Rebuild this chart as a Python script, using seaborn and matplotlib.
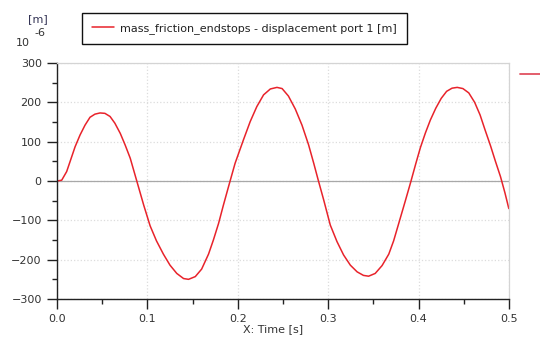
import numpy as np
import pandas as pd
import matplotlib
matplotlib.use('Agg')
import matplotlib.pyplot as plt
import seaborn as sns
from matplotlib.lines import Line2D
from matplotlib.ticker import MultipleLocator

# Values (time in s, displacement in 1e-6 m)
time_s = [0.000, 0.0052, 0.0107, 0.0144, 0.020, 0.0255, 0.031, 0.0365, 0.042,
          0.0476, 0.053, 0.0587, 0.064, 0.070, 0.0753, 0.081, 0.086, 0.090,
          0.096, 0.103, 0.110, 0.1177, 0.125, 0.1325, 0.140, 0.1455, 0.153,
          0.160, 0.1676, 0.173, 0.1787, 0.184, 0.1905, 0.197, 0.2063, 0.2137,
          0.221, 0.2285, 0.236, 0.2433, 0.249, 0.256, 0.2636, 0.271, 0.2783,
          0.284, 0.289, 0.295, 0.3023, 0.3097, 0.317, 0.3245, 0.332, 0.339,
          0.3447, 0.352, 0.3596, 0.367, 0.3724, 0.378, 0.385, 0.391, 0.397,
          0.402, 0.4075, 0.413, 0.419, 0.425, 0.431, 0.437, 0.4427, 0.449,
          0.4555, 0.462, 0.468, 0.4735, 0.4795, 0.485, 0.4906, 0.4955, 0.4998]
displacement = [0, 2, 24, 49, 87, 117, 142, 162, 170,
                173, 172, 164, 147, 121, 92, 58, 18, -14,
                -62, -114, -152, -186, -214, -235, -248, -250, -243,
                -224, -186, -150, -108, -62, -8, 45, 105, 151,
                189, 219, 234, 238, 235, 216, 183, 142, 92,
                45, 2, -48, -112, -154, -188, -214, -231, -240,
                -242, -235, -215, -186, -152, -108, -53, -5, 45,
                85, 122, 155, 185, 210, 228, 236, 238, 235,
                224, 200, 168, 130, 90, 50, 11, -30, -70]

legend_label = 'mass_friction_endstops - displacement port 1 [m]'
x_label = 'X: Time [s]'
line_color = '#e8232b'

df = pd.DataFrame({'time': time_s, 'value': displacement})

sns.set_style('white')
plt.rcParams['font.family'] = ['DejaVu Sans']

fig = plt.figure(figsize=(5.4, 3.42), dpi=100)
ax = fig.add_axes([57 / 540, 1 - 299 / 342, 452 / 540, 236 / 342])

sns.lineplot(data=df, x='time', y='value', ax=ax, color=line_color,
             linewidth=1.1, label=legend_label, legend=False)

ax.set_xlim(0, 0.5)
ax.set_ylim(-300, 300)
ax.xaxis.set_major_locator(MultipleLocator(0.1))
ax.xaxis.set_minor_locator(MultipleLocator(0.05))
ax.yaxis.set_major_locator(MultipleLocator(100))
ax.yaxis.set_minor_locator(MultipleLocator(50))
ax.set_xticklabels([f'{v:.1f}' for v in ax.get_xticks()])

ax.grid(True, which='major', color='#dcdcdc', linestyle=':', linewidth=0.9)
ax.axhline(0, color='#a8a8a8', linewidth=0.9, zorder=1)

for side in ['top', 'right']:
    ax.spines[side].set_color('#d4d4d4')
    ax.spines[side].set_linewidth(0.9)
for side in ['left', 'bottom']:
    ax.spines[side].set_color('#222222')
    ax.spines[side].set_linewidth(1.0)

ax.tick_params(which='major', direction='out', length=7, width=1.0,
               color='#222222', labelsize=8, labelcolor='#333333', pad=4,
               left=True, bottom=True)
ax.tick_params(which='minor', direction='out', length=3.5, width=1.0,
               color='#222222', left=True, bottom=True)

ax.set_xlabel(x_label, fontsize=8, color='#333333')
ax.set_ylabel('')
ax.xaxis.set_label_coords(0.478, -0.105)

# legend box above the plot
handles = [Line2D([0], [0], color=line_color, linewidth=1.1)]
fig.legend(handles, [legend_label], loc='upper left',
           bbox_to_anchor=(82 / 540, 1 - 13 / 342), borderaxespad=0,
           fancybox=False, edgecolor='#111111', framealpha=1,
           fontsize=8, handlelength=2.0, borderpad=0.9, handletextpad=0.5)
fig.legends[0].get_frame().set_linewidth(1.0)
for t in fig.legends[0].get_texts():
    t.set_color('#222222')

# unit labels at top left
fig.text(38 / 540, 1 - 19 / 342, '[m]', fontsize=8, color='#333355',
         ha='center', va='center')
fig.text(23 / 540, 1 - 43 / 342, '10', fontsize=8, color='#333333',
         ha='center', va='center')
fig.text(40 / 540, 1 - 33 / 342, '-6', fontsize=8, color='#333333',
         ha='center', va='center')

# small red dash at right edge
fig.add_artist(Line2D([520 / 540, 1.0], [1 - 74 / 342, 1 - 74 / 342],
                      transform=fig.transFigure, color='#e05060', linewidth=1.3))

fig.savefig('out.png', dpi=100)
